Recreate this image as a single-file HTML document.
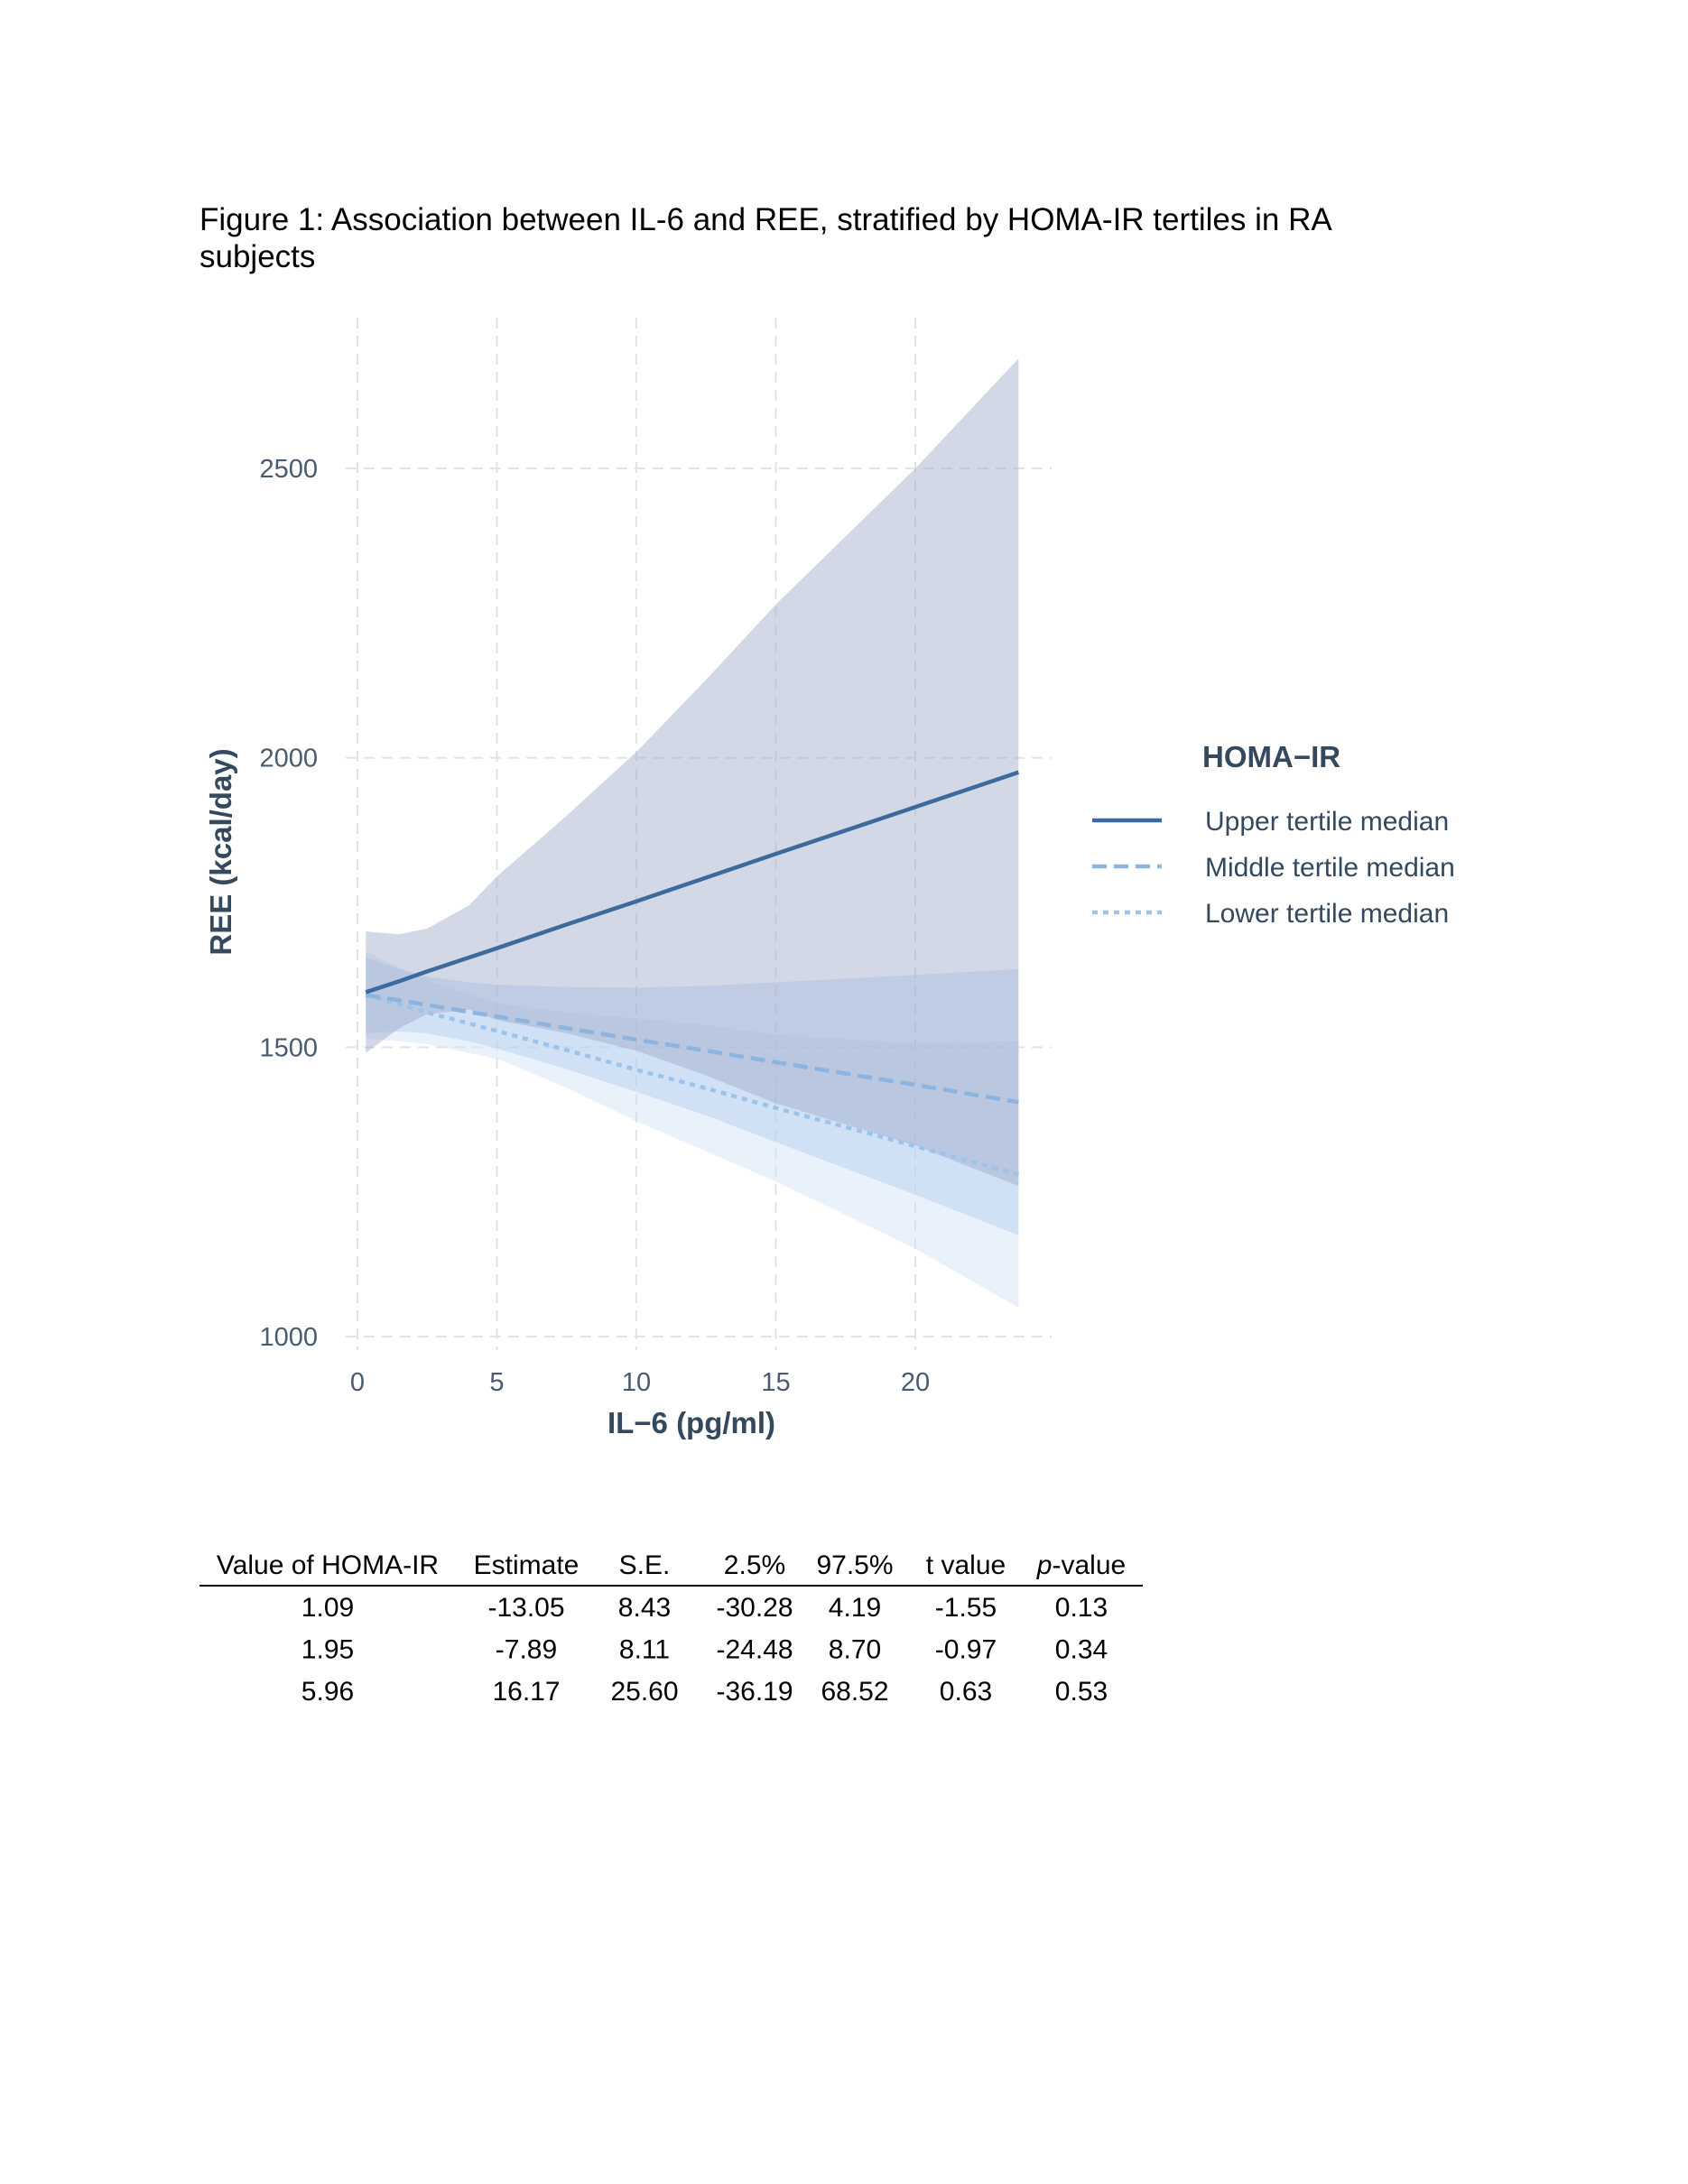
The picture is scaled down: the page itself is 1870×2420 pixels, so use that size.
<!DOCTYPE html>
<html><head><meta charset="utf-8"><style>
html,body{margin:0;padding:0;background:#fff;}
svg{display:block;}
</style></head><body>
<svg width="1870" height="2420" viewBox="0 0 1870 2420" xmlns="http://www.w3.org/2000/svg">
<text x="221" y="255" font-family="Liberation Sans, sans-serif" font-size="35" fill="#000">Figure 1: Association between IL-6 and REE, stratified by HOMA-IR tertiles in RA</text>
<text x="221" y="296" font-family="Liberation Sans, sans-serif" font-size="35" fill="#000">subjects</text>
<g id="plot"></g>
<g id="legend">
<text x="1332" y="850" font-family="Liberation Sans, sans-serif" font-size="33" font-weight="bold" fill="#34495e">HOMA−IR</text>
<line x1="1210" y1="909" x2="1287" y2="909" stroke="#3d6a9e" stroke-width="4.5"/>
<text x="1335" y="920" font-family="Liberation Sans, sans-serif" font-size="30" fill="#34495e">Upper tertile median</text>
<line x1="1210" y1="960" x2="1287" y2="960" stroke="#8cb4df" stroke-width="4.5" stroke-dasharray="16,8"/>
<text x="1335" y="971" font-family="Liberation Sans, sans-serif" font-size="30" fill="#34495e">Middle tertile median</text>
<line x1="1210" y1="1011" x2="1287" y2="1011" stroke="#9cc3ea" stroke-width="4.5" stroke-dasharray="6,6"/>
<text x="1335" y="1022" font-family="Liberation Sans, sans-serif" font-size="30" fill="#34495e">Lower tertile median</text>
</g>
<g id="table"></g>
</svg>
<script>
const xTicks = [0, 5, 10, 15, 20];
const yTicks = [1000, 1500, 2000, 2500];
const xs = [0.3, 1.5, 2.5, 4, 5, 7.5, 10, 12.5, 15, 20, 23.7];
const upperFit = [1595, 1614, 1631, 1655, 1671, 1712, 1752, 1793, 1834, 1915, 1975];
const upperHi = [1700, 1695, 1705, 1745, 1795, 1900, 2010, 2135, 2265, 2500, 2690];
const upperLo = [1490, 1533, 1557, 1565, 1547, 1524, 1494, 1451, 1403, 1330, 1260];
const midFit = [1590, 1581, 1573, 1561, 1553, 1533, 1513, 1494, 1474, 1435, 1405];
const midHi = [1655, 1635, 1622, 1612, 1608, 1604, 1603, 1606, 1612, 1625, 1635];
const midLo = [1525, 1527, 1524, 1510, 1498, 1462, 1423, 1382, 1336, 1245, 1175];
const lowFit = [1590, 1574, 1560, 1541, 1528, 1495, 1461, 1429, 1395, 1329, 1280];
const lowHi = [1665, 1638, 1615, 1592, 1576, 1560, 1550, 1538, 1522, 1506, 1510];
const lowLo = [1515, 1510, 1505, 1490, 1480, 1430, 1372, 1320, 1268, 1152, 1050];
const tableHeader = ["Value of HOMA-IR", "Estimate", "S.E.", "2.5%", "97.5%", "t value", "p-value"];
const tableRows = [
  ["1.09", "-13.05", "8.43", "-30.28", "4.19", "-1.55", "0.13"],
  ["1.95", "-7.89", "8.11", "-24.48", "8.70", "-0.97", "0.34"],
  ["5.96", "16.17", "25.60", "-36.19", "68.52", "0.63", "0.53"]
];

const NS = "http://www.w3.org/2000/svg";
const X = v => 396 + v * 30.9;
const Y = v => 1481 - (v - 1000) * 0.6413;
function mk(tag, attrs, parent) {
  const e = document.createElementNS(NS, tag);
  for (const k in attrs) e.setAttribute(k, attrs[k]);
  parent.appendChild(e);
  return e;
}
const plot = document.getElementById('plot');
xTicks.forEach(t => {
  const l = mk('line', {x1: X(t), x2: X(t), y1: 352, y2: 1496, stroke: '#e3e3e3', 'stroke-width': 2, 'stroke-dasharray': '12,8'}, plot);
  
  
  const tx = mk('text', {x: X(t), y: 1541, 'text-anchor': 'middle', 'font-family': 'Liberation Sans, sans-serif', 'font-size': 29, fill: '#4a5a70'}, plot);
  tx.textContent = t;
  
  
});
yTicks.forEach(t => {
  const l = mk('line', {x1: 383, x2: 1165, y1: Y(t), y2: Y(t), stroke: '#e3e3e3', 'stroke-width': 2, 'stroke-dasharray': '12,8'}, plot);
  
  
  const tx = mk('text', {x: 352, y: Y(t) + 10, 'text-anchor': 'end', 'font-family': 'Liberation Sans, sans-serif', 'font-size': 29, fill: '#4a5a70'}, plot);
  tx.textContent = t;
  
  
});
function ribbon(hi, lo, fill, op, name) {
  let d = 'M' + xs.map((x, i) => X(x) + ',' + Y(hi[i])).join(' L');
  d += ' L' + xs.slice().reverse().map((x, j) => X(x) + ',' + Y(lo[xs.length - 1 - j])).join(' L') + ' Z';
  const p = mk('path', {d: d, fill: fill, 'fill-opacity': op}, plot);
  
  
}
function line(fit, stroke, dash, name) {
  const p = mk('polyline', {points: xs.map((x, i) => X(x) + ',' + Y(fit[i])).join(' '), fill: 'none', stroke: stroke, 'stroke-width': 4.5}, plot);
  if (dash) p.setAttribute('stroke-dasharray', dash);
  
  
}
ribbon(lowHi, lowLo, '#cfe0f7', 0.45, 'ribbon-lower-tertile');
ribbon(midHi, midLo, '#a9c8ee', 0.4, 'ribbon-middle-tertile');
ribbon(upperHi, upperLo, '#9ea9c9', 0.45, 'ribbon-upper-tertile');
line(lowFit, '#9cc3ea', '6,6', 'line-lower-tertile');
line(midFit, '#8cb4df', '16,8', 'line-middle-tertile');
line(upperFit, '#3d6a9e', null, 'line-upper-tertile');
const xt = mk('text', {x: 766, y: 1588, 'text-anchor': 'middle', 'font-family': 'Liberation Sans, sans-serif', 'font-size': 33, 'font-weight': 'bold', fill: '#34495e'}, plot);
xt.textContent = 'IL−6 (pg/ml)';


const yt = mk('text', {x: 0, y: 0, transform: 'translate(256,944) rotate(-90)', 'text-anchor': 'middle', 'font-family': 'Liberation Sans, sans-serif', 'font-size': 33, 'font-weight': 'bold', fill: '#34495e'}, plot);
yt.textContent = 'REE (kcal/day)';



const tbl = document.getElementById('table');
const colX = [363, 583, 714, 836, 947, 1070, 1198];
const tf = '"Liberation Sans Narrow", "Liberation Sans", sans-serif';
tableHeader.forEach((h, i) => {
  const t = mk('text', {x: colX[i], y: 1744, 'text-anchor': 'middle', 'font-family': tf, 'font-size': 30, fill: '#000'}, tbl);
  if (i === 6) {
    const s = mk('tspan', {'font-style': 'italic'}, t); s.textContent = 'p';
    const s2 = mk('tspan', {}, t); s2.textContent = '-value';
  } else t.textContent = h;
  
  
});
const rule = mk('line', {x1: 221, x2: 1266, y1: 1757, y2: 1757, stroke: '#000', 'stroke-width': 2}, tbl);


tableRows.forEach((r, ri) => {
  r.forEach((c, i) => {
    const t = mk('text', {x: colX[i], y: 1791 + ri * 46.5, 'text-anchor': 'middle', 'font-family': tf, 'font-size': 30, fill: '#000'}, tbl);
    t.textContent = c;
    
    
  });
});
</script>
</body></html>
